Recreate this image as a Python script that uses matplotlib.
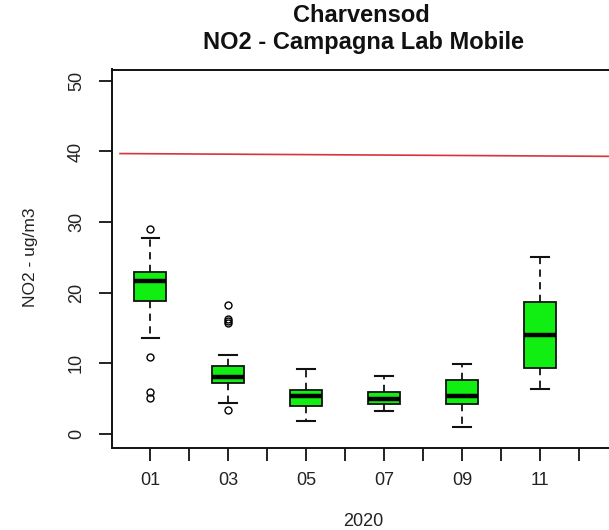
import matplotlib
matplotlib.use('Agg')
import matplotlib.pyplot as plt

plt.rcParams['font.family'] = ['Liberation Sans', 'DejaVu Sans']

# Dati (NO2, ug/m3) per mese
mesi = ['01', '02', '03', '04', '05', '06', '07', '08', '09', '10', '11', '12']
mesi_box = [1, 3, 5, 7, 9, 11]
q1 = [18.8, 7.2, 4.0, 4.3, 4.2, 9.4]
mediane = [21.6, 8.1, 5.4, 5.0, 5.4, 14.0]
q3 = [22.9, 9.6, 6.2, 6.0, 7.6, 18.7]
baffo_basso = [13.6, 4.4, 1.8, 3.2, 1.0, 6.4]
baffo_alto = [27.7, 11.2, 9.2, 8.2, 9.9, 25.1]
outlier = [[29.0, 10.9, 6.0, 5.1], [18.3, 16.3, 16.0, 15.7, 3.4], [], [], [], []]

# linea del limite annuale (leggermente inclinata nel grafico originale)
limite_x = [0.23, 13.0]
limite_y = [39.7, 39.3]

W, H = 609, 530
fig = plt.figure(figsize=(W / 100, H / 100), dpi=100)
ax = fig.add_axes([112 / W, (H - 448) / H, (614 - 112) / W, (448 - 69.5) / H])

stats = []
for i in range(len(mesi_box)):
    stats.append({'med': mediane[i], 'q1': q1[i], 'q3': q3[i],
                  'whislo': baffo_basso[i], 'whishi': baffo_alto[i],
                  'fliers': outlier[i]})

ax.bxp(stats, positions=mesi_box, widths=0.83, patch_artist=True,
       showfliers=True, capwidths=0.44,
       boxprops=dict(facecolor='#11ee11', edgecolor='#111111', linewidth=1.3),
       medianprops=dict(color='black', linewidth=3.2, solid_capstyle='butt'),
       whiskerprops=dict(color='#111111', linewidth=1.3, linestyle=(0, (4, 3))),
       capprops=dict(color='#111111', linewidth=1.5),
       flierprops=dict(marker='o', markerfacecolor='none', markeredgecolor='black',
                       markersize=5, markeredgewidth=1.0))

ax.plot(limite_x, limite_y, color='#d8343c', linewidth=1.2)

ax.set_xlim(0.023, 12.9)
ax.set_ylim(-1.98, 51.6)

ax.set_xticks(range(1, 13))
ax.set_xticklabels([m if int(m) % 2 == 1 else '' for m in mesi])
ax.set_yticks([0, 10, 20, 30, 40, 50])

ax.tick_params(axis='both', direction='out', length=9.5, width=1.3, colors='#111111',
               labelsize=13, labelcolor='#222222')
ax.tick_params(axis='x', pad=8)
ax.tick_params(axis='y', pad=10)
for lab in ax.get_yticklabels():
    lab.set_rotation(90)
    lab.set_va('center')

for s in ax.spines.values():
    s.set_linewidth(1.4)
    s.set_color('#111111')

fig.text(361 / W, 1 - 15 / H, 'Charvensod', ha='center', va='center',
         fontsize=17, fontweight='bold', color='#111111')
fig.text(363 / W, 1 - 42 / H, 'NO2 - Campagna Lab Mobile', ha='center', va='center',
         fontsize=17, fontweight='bold', color='#111111')
fig.text(30 / W, 1 - 257 / H, 'NO2 - ug/m3', rotation=90, ha='center', va='center',
         fontsize=12.5, color='#222222')
fig.text(363 / W, 1 - 521 / H, '2020', ha='center', va='center',
         fontsize=13, color='#222222')

fig.savefig('out.png', dpi=100)
